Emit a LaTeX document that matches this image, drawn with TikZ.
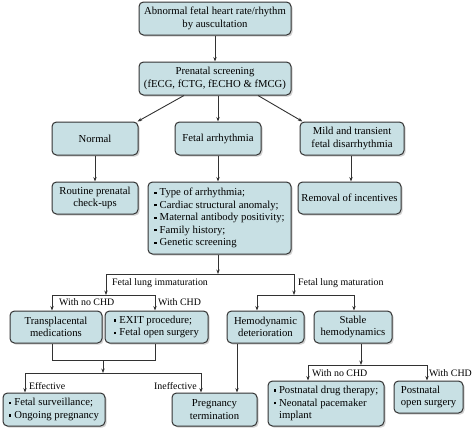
\documentclass[tikz,border=0pt]{standalone}
\usepackage{fontspec}
\setmainfont{Liberation Serif}
\usetikzlibrary{arrows.meta,shadows}
\definecolor{boxfill}{RGB}{200,224,228}
\definecolor{boxline}{RGB}{50,50,50}
\newcommand{\bul}{\raisebox{1.8pt}{\rule{2.3pt}{2.3pt}}\hspace{3pt}}
\begin{document}
\begin{tikzpicture}[x=1pt,y=-1pt,
  box/.style={draw=boxline, fill=boxfill, line width=1pt, rounded corners=4.5pt,
    inner sep=0pt, align=center, font=\fontsize{10.7}{12.5}\selectfont,
    drop shadow={shadow xshift=1.6pt, shadow yshift=-1.6pt, fill=black!30, opacity=0.6}},
  lbox/.style={box, align=left},
  conn/.style={draw=boxline, line width=0.9pt},
  arr/.style={conn, -{Stealth[length=4.5pt,width=3.4pt]}},
  lab/.style={font=\fontsize{9.9}{12}\selectfont, inner sep=0pt, text=black}]
\useasboundingbox (0,0) rectangle (474,429);

% nodes
\node[box, minimum width=152pt, minimum height=33pt] (top) at (215,18.5) {Abnormal fetal heart rate/rhythm\\by auscultation};
\node[box, minimum width=152pt, minimum height=33pt] (screen) at (215,78.5) {Prenatal screening\\(fECG, fCTG, fECHO \& fMCG)};
\node[box, minimum width=86pt, minimum height=33pt] (normal) at (95,138.5) {Normal};
\node[box, minimum width=86pt, minimum height=33pt] (arrh) at (218,138.5) {Fetal arrhythmia};
\node[box, minimum width=104pt, minimum height=33pt] (mild) at (352,138.5) {Mild and transient\\fetal disarrhythmia};
\node[box, minimum width=86pt, minimum height=32pt] (routine) at (95,198) {Routine prenatal\\check-ups};
\node[lbox, minimum width=143pt, minimum height=72pt] (factors) at (219.5,218) {\bul Type of arrhythmia;\\\bul Cardiac structural anomaly;\\\bul Maternal antibody positivity;\\\bul Family history;\\\bul Genetic screening};
\node[box, minimum width=103pt, minimum height=32pt] (removal) at (349.5,198) {Removal of incentives};
\node[box, minimum width=92pt, minimum height=32pt] (transp) at (56,327) {Transplacental\\medications};
\node[lbox, minimum width=103pt, minimum height=32pt] (exit) at (156.5,327) {\bul EXIT procedure;\\\bul Fetal open surgery};
\node[box, minimum width=77pt, minimum height=32pt] (hemo) at (265.5,327) {Hemodynamic\\deterioration};
\node[box, minimum width=78pt, minimum height=32pt] (stable) at (353,327) {Stable\\hemodynamics};
\node[lbox, minimum width=102pt, minimum height=33pt] (surv) at (54,409.5) {\bul Fetal surveillance;\\\bul Ongoing pregnancy};
\node[box, minimum width=85pt, minimum height=33pt] (preg) at (214.5,409.5) {Pregnancy\\termination};
\node[lbox, minimum width=116pt, minimum height=45pt] (drug) at (326,403.5) {\bul Postnatal drug therapy;\\\bul Neonatal pacemaker\\\hphantom{\bul}implant};
\node[lbox, minimum width=69pt, minimum height=32pt] (open) at (428.5,397) {Postnatal\\open surgery};

% junction coordinates
\coordinate (j1) at (218,274);
\coordinate (jl) at (106,274);
\coordinate (jr) at (294,274);
\coordinate (jl2) at (106,295);
\coordinate (jr2) at (294,295);
\coordinate (a1) at (52,295);
\coordinate (a2) at (155,295);
\coordinate (b1) at (257,295);
\coordinate (b2) at (354,295);
\coordinate (c1) at (52,360);
\coordinate (c2) at (155,360);
\coordinate (c3) at (103,360);
\coordinate (c4) at (103,373);
\coordinate (d1) at (25,373);
\coordinate (d2) at (201,373);
\coordinate (hx) at (237,0);
\coordinate (s1) at (361,365);
\coordinate (e1) at (308,365);
\coordinate (e2) at (427,365);

% connectors
\draw[arr] (top.south) -- (screen.north);
\draw[arr] ([xshift=-31pt]screen.south) -- ([xshift=-1pt]normal.north east);
\draw[arr] (screen.south -| arrh.north) -- (arrh.north);
\draw[arr] ([xshift=43pt]screen.south) -- ([xshift=3pt]mild.north west);
\draw[arr] (normal.south) -- (routine.north);
\draw[arr] (arrh.south) -- (arrh.south |- factors.north);
\draw[arr] ([xshift=-1pt]mild.south) -- ([xshift=-1pt]mild.south |- removal.north);
\draw[arr] (factors.south -| j1) -- (j1);
\draw[conn] (jl) -- (jr);
\draw[arr] (jl) -- (jl2);
\draw[arr] (jr) -- (jr2);
\draw[conn] (a1) -- (a2);
\draw[arr] (a1) -- (a1 |- transp.north);
\draw[arr] (a2) -- (a2 |- exit.north);
\draw[conn] (b1) -- (b2);
\draw[arr] (b1) -- (b1 |- hemo.north);
\draw[arr] (b2) -- (b2 |- stable.north);
\draw[conn] (c1 |- transp.south) -- (c1) -- (c2) -- (c2 |- exit.south);
\draw[arr] (c3) -- (c4);
\draw[conn] (d1) -- (d2);
\draw[arr] (d1) -- (d1 |- surv.north);
\draw[arr] (d2) -- (d2 |- preg.north);
\draw[arr] (hemo.south -| hx) -- (preg.north -| hx);
\draw[arr] (stable.south -| s1) -- (s1);
\draw[conn] (e1) -- (e2);
\draw[arr] (e1) -- (e1 |- drug.north);
\draw[arr] (e2) -- (e2 |- open.north);

% labels
\node[lab, anchor=west] (l1) at (112,283) {Fetal lung immaturation};
\node[lab, anchor=west] (l2) at (298,283) {Fetal lung maturation};
\node[lab, anchor=west] (l3) at (59,302) {With no CHD};
\node[lab, anchor=west] (l4) at (158,302) {With CHD};
\node[lab, anchor=west] (l5) at (29,386) {Effective};
\node[lab, anchor=east] (l6) at (197,386) {Ineffective};
\node[lab, anchor=west] (l7) at (312,373) {With no CHD};
\node[lab, anchor=east] (l8) at (472,373) {With CHD};
\end{tikzpicture}
\end{document}
